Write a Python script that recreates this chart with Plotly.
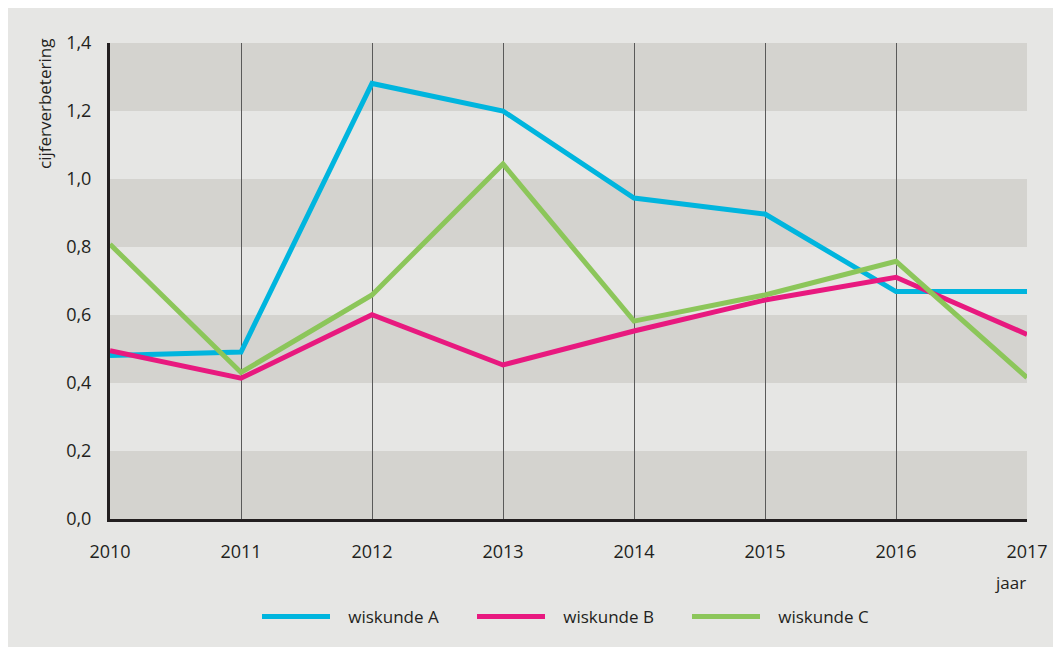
import plotly.graph_objects as go

years = [2010, 2011, 2012, 2013, 2014, 2015, 2016, 2017]
wiskunde_a = [0.481, 0.491, 1.281, 1.20, 0.944, 0.897, 0.669, 0.669]
wiskunde_b = [0.495, 0.414, 0.601, 0.453, 0.553, 0.644, 0.711, 0.543]
wiskunde_c = [0.808, 0.431, 0.659, 1.044, 0.582, 0.659, 0.758, 0.416]
y_ticks = [0.0, 0.2, 0.4, 0.6, 0.8, 1.0, 1.2, 1.4]
y_ticktext = ["0,0", "0,2", "0,4", "0,6", "0,8", "1,0", "1,2", "1,4"]
dark_bands = [(0.0, 0.2), (0.4, 0.6), (0.8, 1.0), (1.2, 1.4)]

series = [
    ("wiskunde A", wiskunde_a, "#00b5de"),
    ("wiskunde B", wiskunde_b, "#e8197f"),
    ("wiskunde C", wiskunde_c, "#8cc65a"),
]

FONT = "Open Sans"
TXT = "#231f20"
BG = "#e6e6e4"
BAND = "#d4d3cf"
PAD = "\u00a0\u00a0\u00a0"

fig = go.Figure()
for name, vals, col in series:
    fig.add_trace(go.Scatter(x=years, y=vals, name=PAD + name, mode="lines",
                             line=dict(color=col, width=5)))

# page has an 8px body margin: screen coords = figure coords + 8
OFF = 8
W, H = 1061, 647
L, T = 110 - OFF, 43 - OFF
R = W - (1027 - OFF)
B = H - (519 - OFF)
pw, ph = W - L - R, H - T - B

def px(xs):
    return (xs - OFF - L) / pw

def py(ys):
    return (H - B - (ys - OFF)) / ph

shapes = []
for y0, y1 in dark_bands:
    shapes.append(dict(type="rect", xref="paper", yref="y", x0=0, x1=1, y0=y0, y1=y1,
                       fillcolor=BAND, line=dict(width=0), layer="below"))

fig.update_layout(
    width=W, height=H,
    margin=dict(l=L, r=R, t=T, b=B, autoexpand=False),
    paper_bgcolor=BG, plot_bgcolor="rgba(0,0,0,0)",
    font=dict(family=FONT, size=18, color=TXT),
    shapes=shapes,
    showlegend=True,
    legend=dict(orientation="h", x=px(257), xanchor="left", y=py(617), yanchor="middle",
                font=dict(size=17, color=TXT), itemwidth=68,
                entrywidth=132, entrywidthmode="pixels", bgcolor="rgba(0,0,0,0)"),
    annotations=[
        dict(text="cijferverbetering", xref="paper", yref="paper", x=px(44), y=py(37),
             xanchor="center", yanchor="top", textangle=-90, showarrow=False,
             font=dict(size=17, color=TXT)),
        dict(text="jaar", xref="paper", yref="paper", x=px(1028), y=py(582),
             xanchor="right", yanchor="middle", showarrow=False,
             font=dict(size=17, color=TXT)),
    ],
)

fig.update_xaxes(range=[2010, 2017], tickvals=years, ticktext=[str(y) for y in years],
                 showgrid=True, gridcolor="#5a5a5a", gridwidth=1,
                 showline=True, linecolor="#231f20", linewidth=3,
                 zeroline=False, ticks="", ticklabelstandoff=14, fixedrange=True)
fig.update_yaxes(range=[0, 1.4], tickvals=y_ticks, ticktext=y_ticktext,
                 showgrid=False, showline=True, linecolor="#231f20", linewidth=3,
                 zeroline=False, ticks="", ticklabelstandoff=12, fixedrange=True)

fig.write_html("out.html")
